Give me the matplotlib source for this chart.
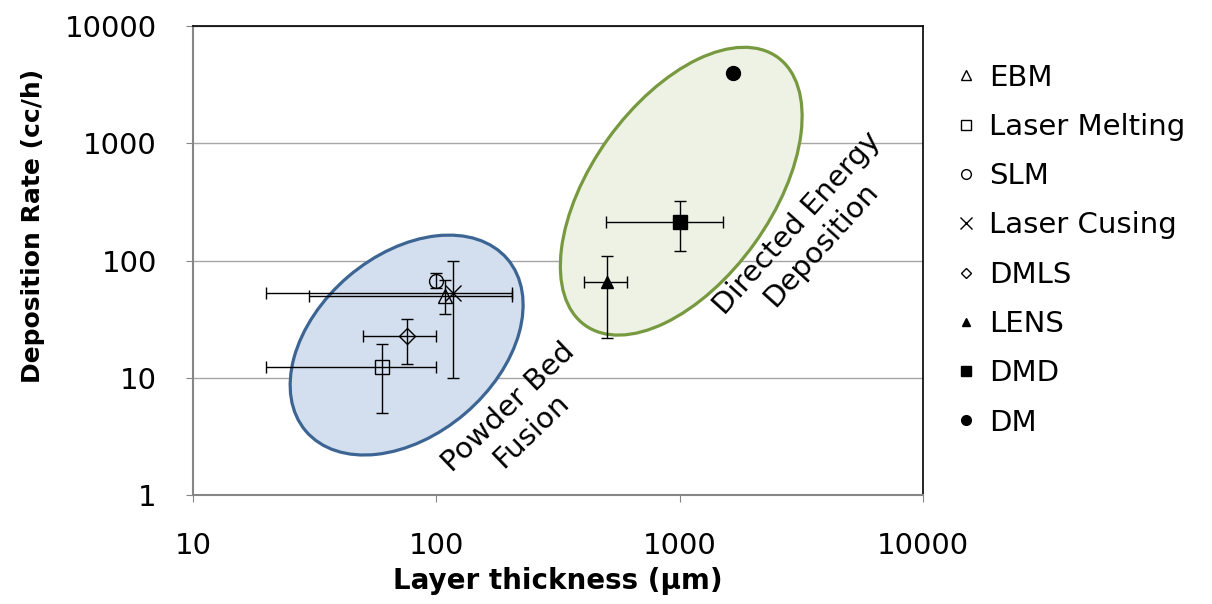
import numpy as np
import matplotlib.pyplot as plt
from matplotlib.patches import Ellipse
from matplotlib.transforms import ScaledTranslation
from matplotlib.lines import Line2D

plt.rcParams['font.family'] = ['DejaVu Sans']

# process data (layer thickness in um, deposition rate in cc/h)
names = ['EBM', 'Laser Melting', 'SLM', 'Laser Cusing', 'DMLS', 'LENS', 'DMD', 'DM']
x = [109, 60, 100, 117, 76, 505, 1000, 1650]
y = [50, 12.3, 67, 53, 22.5, 66, 215, 4000]
x_low = [30, 20, 100, 20, 50, 405, 500, 1650]
x_high = [205, 100, 100, 205, 100, 610, 1500, 1650]
y_low = [35, 5, 58, 10, 13, 22, 120, 4000]
y_high = [68, 19.5, 78, 100, 32, 110, 320, 4000]
markers = ['^', 's', 'o', 'x', 'D', '^', 's', 'o']
filled = [False, False, False, False, False, True, True, True]
msizes = [10, 10, 10, 12, 8, 9, 10, 10]

# group regions: centre (data), size in pixels, angle
groups = ['Powder Bed\nFusion', 'Directed Energy\nDeposition']
group_center = [(75.5, 19.0), (1015, 390)]
group_size = [(265, 180), (330, 180)]
group_angle = [40.5, 54.3]
group_face = ['#d3dfee', '#eef2e5']
group_edge = ['#3d6594', '#77993f']
label_pos = [(221, 4.45), (3400, 168)]
label_rot = [44, 48]

fig = plt.figure(figsize=(12.12, 6.04), dpi=100)
ax = fig.add_axes([193 / 1212, 1 - 495 / 604, 730 / 1212, 469 / 604])
ax.set_xscale('log')
ax.set_yscale('log')
ax.set_xlim(10, 10000)
ax.set_ylim(1, 10000)

for i in range(len(groups)):
    tr = fig.dpi_scale_trans + ScaledTranslation(*group_center[i], ax.transData)
    e = Ellipse((0, 0), group_size[i][0] / 100, group_size[i][1] / 100, angle=group_angle[i],
                transform=tr, facecolor=group_face[i], edgecolor=group_edge[i], lw=2.3, zorder=1)
    ax.add_patch(e)
    ax.text(*label_pos[i], groups[i], rotation=label_rot[i], ha='center', va='center',
            fontsize=21, rotation_mode='anchor', linespacing=1.2, zorder=3)

handles = []
for i in range(len(names)):
    xe = None
    ye = None
    if x_high[i] != x_low[i]:
        xe = [[x[i] - x_low[i]], [x_high[i] - x[i]]]
    if y_high[i] != y_low[i]:
        ye = [[y[i] - y_low[i]], [y_high[i] - y[i]]]
    face = 'black' if filled[i] else 'none'
    ax.errorbar([x[i]], [y[i]], xerr=xe, yerr=ye, fmt='none', ecolor='black',
                elinewidth=1, capsize=4, capthick=1, zorder=4)
    ax.plot([x[i]], [y[i]], linestyle='none', marker=markers[i], markersize=msizes[i],
            markerfacecolor=face, markeredgecolor='black', markeredgewidth=1, zorder=5)
    handles.append(Line2D([], [], linestyle='none', marker=markers[i],
                          markersize=msizes[i] * 0.7, markerfacecolor=face,
                          markeredgecolor='black', markeredgewidth=1, label=names[i]))

ax.grid(True, axis='y', which='major', color='#a6a6a6', lw=1)
ax.set_axisbelow(True)
ax.minorticks_off()
ax.set_xticks([10, 100, 1000, 10000])
ax.set_xticklabels(['10', '100', '1000', '10000'])
ax.set_yticks([1, 10, 100, 1000, 10000])
ax.set_yticklabels(['1', '10', '100', '1000', '10000'])
ax.tick_params(axis='x', direction='out', length=5, color='#868686', pad=22, labelsize=21)
ax.tick_params(axis='y', direction='out', length=5, color='#868686', pad=21, labelsize=21)
for s in ['left', 'bottom']:
    ax.spines[s].set_color('#868686')
    ax.spines[s].set_linewidth(1.5)
for s in ['top', 'right']:
    ax.spines[s].set_color('black')
    ax.spines[s].set_linewidth(1.2)

ax.set_xlabel('Layer thickness (µm)', fontsize=20, fontweight='bold', labelpad=5)
ax.set_ylabel('Deposition Rate (cc/h)', fontsize=18, fontweight='bold')
ax.yaxis.set_label_coords(-0.203, 0.574)

fig.legend(handles=handles, loc='upper left', bbox_to_anchor=(937 / 1212, 1 - 49 / 604),
           frameon=False, fontsize=21, labelspacing=0.73, handletextpad=0.3,
           handlelength=1.0, borderpad=0)

fig.savefig('out.png', dpi=100)
